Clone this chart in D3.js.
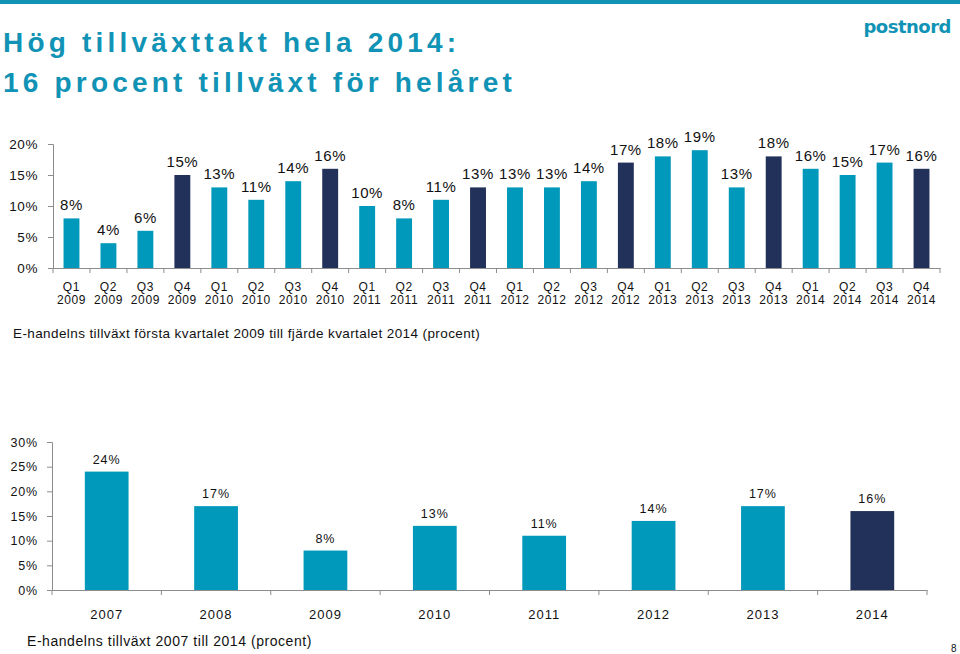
<!DOCTYPE html>
<html><head><meta charset="utf-8">
<script src="https://cdn.jsdelivr.net/npm/d3@7"></script>
<style>
body{margin:0;background:#fff;}
svg{display:block;font-family:"Liberation Sans",Arial,sans-serif;}
</style></head><body>
<svg id="c" width="960" height="654"></svg>
<script>
const quarters = ["Q1","Q2","Q3","Q4","Q1","Q2","Q3","Q4","Q1","Q2","Q3","Q4","Q1","Q2","Q3","Q4","Q1","Q2","Q3","Q4","Q1","Q2","Q3","Q4"];
const quarterYears = ["2009","2009","2009","2009","2010","2010","2010","2010","2011","2011","2011","2011","2012","2012","2012","2012","2013","2013","2013","2013","2014","2014","2014","2014"];
const quarterValues = [8,4,6,15,13,11,14,16,10,8,11,13,13,13,14,17,18,19,13,18,16,15,17,16];
const topTicks = [0,5,10,15,20];
const years = ["2007","2008","2009","2010","2011","2012","2013","2014"];
const yearValues = [24,17,8,13,11,14,17,16];
const bottomTicks = [0,5,10,15,20,25,30];
const titleLines = ["Hög tillväxttakt hela 2014:","16 procent tillväxt för helåret"];
const caption1 = "E-handelns tillväxt första kvartalet 2009 till fjärde kvartalet 2014 (procent)";
const caption2 = "E-handelns tillväxt 2007 till 2014 (procent)";

const TEAL = "#0099bb", NAVY = "#22315a", TITLE = "#1193b5", AXIS = "#8c8c8c";
const svg = d3.select("#c");

svg.append("rect").attr("x",0).attr("y",0).attr("width",960).attr("height",4).attr("fill",TITLE);
svg.selectAll("text.title").data(titleLines).join("text")
  .attr("x",3).attr("y",(d,i)=>52+i*40)
  .attr("fill",TITLE).attr("font-size",28).attr("font-weight","bold")
  .attr("letter-spacing",4.2).text(d=>d);
svg.append("text").attr("x",951).attr("y",33).attr("text-anchor","end").attr("fill",TITLE)
  .attr("font-size",18).attr("font-weight","bold").attr("letter-spacing",-0.5)
  .attr("font-family","'DejaVu Sans',sans-serif").text("postnord");

// ---------- top chart ----------
const idx = d3.range(quarterValues.length);
const x1 = d3.scaleBand().domain(idx).range([53,940]).paddingInner(0.57).paddingOuter(0.285);
const y1 = d3.scaleLinear().domain([0,20]).range([268,144]);
const g1 = svg.append("g");
g1.selectAll("rect").data(idx).join("rect")
  .attr("x",i=>x1(i)).attr("width",x1.bandwidth())
  .attr("y",i=>y1(quarterValues[i])).attr("height",i=>y1(0)-y1(quarterValues[i]))
  .attr("fill",i=>quarters[i]==="Q4"?NAVY:TEAL);
g1.selectAll("text.v").data(idx).join("text")
  .attr("x",i=>x1(i)+x1.bandwidth()/2).attr("y",i=>y1(quarterValues[i])-8)
  .attr("text-anchor","middle").attr("font-size",15).attr("letter-spacing",0.6)
  .attr("fill","#111").text(i=>quarterValues[i]+"%");
const ya1 = g1.append("g").attr("transform","translate(53,0)")
  .call(d3.axisLeft(y1).tickValues(topTicks).tickFormat(d=>d+"%").tickSize(5).tickPadding(10));
const xa1 = g1.append("g").attr("transform","translate(0,268)")
  .call(d3.axisBottom(x1).tickSize(0).tickFormat(""));
const step1 = x1.step();
g1.selectAll("line.bt").data(d3.range(quarterValues.length+1)).join("line")
  .attr("x1",i=>53+i*step1).attr("x2",i=>53+i*step1).attr("y1",268).attr("y2",273)
  .attr("stroke",AXIS);
const tl = g1.selectAll("text.q").data(idx).join("text")
  .attr("text-anchor","middle").attr("font-size",12).attr("letter-spacing",0.6).attr("fill","#111");
tl.append("tspan").attr("x",i=>x1(i)+x1.bandwidth()/2).attr("y",291).text(i=>quarters[i]);
tl.append("tspan").attr("x",i=>x1(i)+x1.bandwidth()/2).attr("y",304).text(i=>quarterYears[i]);

svg.append("text").attr("x",13).attr("y",338).attr("font-size",13.5).attr("letter-spacing",0.4)
  .attr("fill","#111").text(caption1);

// ---------- bottom chart ----------
const x2 = d3.scaleBand().domain(years).range([52,927]).paddingInner(0.6).paddingOuter(0.3);
const y2 = d3.scaleLinear().domain([0,30]).range([590,442]);
const g2 = svg.append("g");
g2.selectAll("rect").data(years).join("rect")
  .attr("x",d=>x2(d)).attr("width",x2.bandwidth())
  .attr("y",(d,i)=>y2(yearValues[i])).attr("height",(d,i)=>y2(0)-y2(yearValues[i]))
  .attr("fill",(d,i)=>i===years.length-1?NAVY:TEAL);
g2.selectAll("text.v").data(years).join("text")
  .attr("x",d=>x2(d)+x2.bandwidth()/2).attr("y",(d,i)=>y2(yearValues[i])-8)
  .attr("text-anchor","middle").attr("font-size",12.5).attr("letter-spacing",1)
  .attr("fill","#111").text((d,i)=>yearValues[i]+"%");
const ya2 = g2.append("g").attr("transform","translate(52,0)")
  .call(d3.axisLeft(y2).tickValues(bottomTicks).tickFormat(d=>d+"%").tickSize(5).tickPadding(9));
const xa2 = g2.append("g").attr("transform","translate(0,590)")
  .call(d3.axisBottom(x2).tickSize(0).tickPadding(20));
const step2 = x2.step();
g2.selectAll("line.bt").data(d3.range(years.length+1)).join("line")
  .attr("x1",i=>52+i*step2).attr("x2",i=>52+i*step2).attr("y1",590).attr("y2",595)
  .attr("stroke",AXIS);

svg.append("text").attr("x",27).attr("y",646).attr("font-size",14).attr("letter-spacing",0.55)
  .attr("fill","#111").text(caption2);
svg.append("text").attr("x",951).attr("y",652).attr("font-size",10).attr("fill","#111").text("8");

[ya1,xa1,ya2,xa2].forEach(a=>{
  a.selectAll("path.domain").attr("stroke",AXIS);
  a.selectAll(".tick line").attr("stroke",AXIS);
  a.selectAll("text").attr("fill","#111").attr("font-family","'Liberation Sans',Arial,sans-serif");
});
ya1.selectAll("text").attr("font-size",13.5).attr("letter-spacing",0.6);
ya2.selectAll("text").attr("font-size",12.5).attr("letter-spacing",0.8);
xa2.selectAll("text").attr("font-size",13).attr("letter-spacing",1);
</script>
</body></html>
